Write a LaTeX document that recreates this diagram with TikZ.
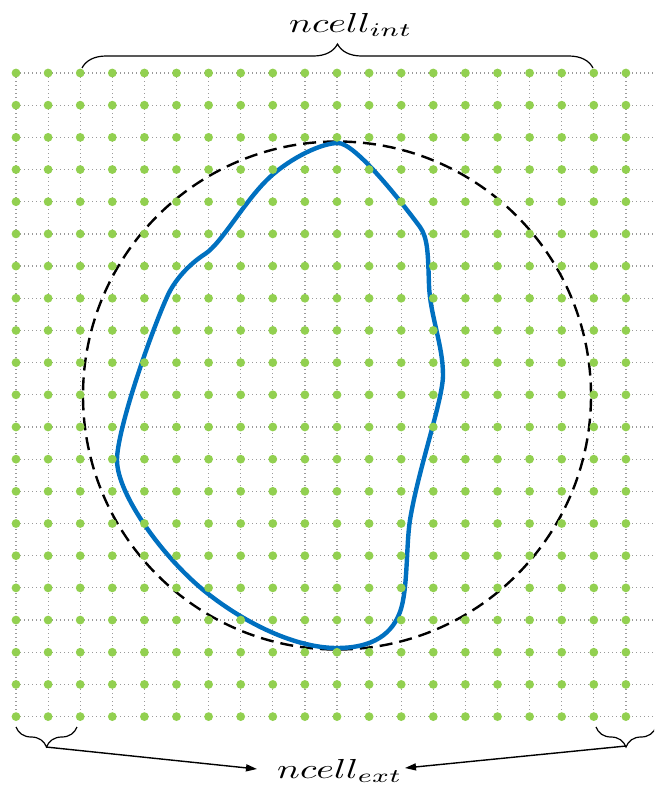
\documentclass[tikz,border=0pt]{standalone}
\usetikzlibrary{decorations.pathreplacing,arrows.meta}
\definecolor{dotgreen}{HTML}{92D050}
\definecolor{curveblue}{HTML}{0070C0}
\definecolor{gridgray}{HTML}{9A9A9A}
\begin{document}
\begin{tikzpicture}[x=1pt,y=-1pt,
  gridline/.style={gridgray,line width=1.2pt,dash pattern=on 1.2pt off 2.8pt},
  dashcircle/.style={black,line width=2.4pt,dash pattern=on 13pt off 7pt},
  blobline/.style={curveblue,line width=4.4pt,line join=round},
  bracestyle/.style={decorate,decoration={brace,amplitude=#1},line width=1.2pt},
  arrowline/.style={line width=1.4pt,-{Triangle[length=11pt,width=7pt]}},
  lbl/.style={anchor=base west,inner sep=0pt}
]
\useasboundingbox (0,0) rectangle (654,796);
\begin{scope}
\clip (0,0) rectangle (654,796);
% grid lines
\foreach \j in {0,...,20}{
  \draw[gridline] (16,{73+32.18*\j}) -- (660,{73+32.18*\j});
}
\foreach \i in {0,...,19}{
  \draw[gridline] ({16+32.1*\i},73) -- ({16+32.1*\i},716.6);
}
% dashed circle
\draw[dashcircle] (337,395.5) circle (254pt);
% blue closed shape
\draw[blobline] (338,143)
  .. controls (355,143) and (400,200) .. (420,227)
  .. controls (428,238) and (428,255) .. (429,285)
  .. controls (430,315) and (443,345) .. (443,375)
  .. controls (443,400) and (418,470) .. (410,520)
  .. controls (406,545) and (408,590) .. (400,612)
  .. controls (390,639.5) and (365,648) .. (337,648)
  .. controls (295,648) and (245,623) .. (207,593)
  .. controls (165,560) and (117,495) .. (117,460)
  .. controls (117,430) and (150,335) .. (167,297)
  .. controls (174,281) and (188,265) .. (205,254)
  .. controls (222,243) and (245,200) .. (270,177)
  .. controls (292,157) and (322,143) .. (338,143) -- cycle;
% dots
\foreach \j in {0,...,20}{
  \foreach \i in {0,...,19}{
    \fill[dotgreen] ({16+32.1*\i},{73+32.18*\j}) circle (4.4pt);
  }
}
% braces
\draw[bracestyle=24pt] (82,68) -- (593,68);
\draw[bracestyle=20pt] (77,727) -- (16,727);
\draw[bracestyle=20pt] (656,727) -- (596,727);
\end{scope}
% labels
\node[lbl] (int) at (289,32) {\scalebox{3.8}[2.75]{$ncell_{int}$}};
\node[lbl] (ext) at (277,778) {\scalebox{3.8}[2.75]{$ncell_{ext}$}};
% arrows
\coordinate (bL) at (46,747);
\coordinate (bR) at (626,746);
\coordinate (eL) at (257,769);
\coordinate (eR) at (405,768);
\draw[arrowline] (bL) -- (eL);
\draw[arrowline] (bR) -- (eR);
\end{tikzpicture}
\end{document}
